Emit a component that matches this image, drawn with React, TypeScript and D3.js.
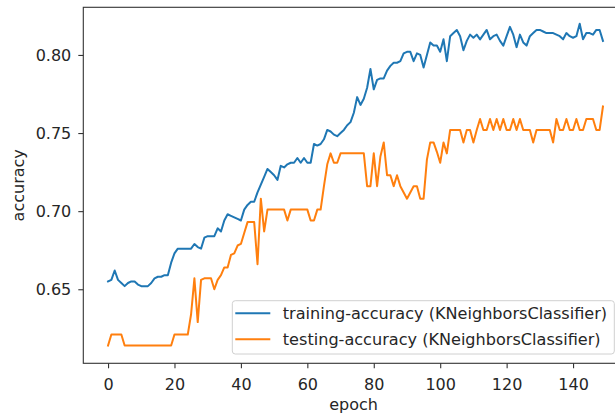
import React, { useEffect, useRef } from "react";
import * as d3 from "d3";

// accuracy per epoch
const trainAcc = [
  0.655, 0.656, 0.662, 0.656, 0.654, 0.652, 0.654, 0.655, 0.655, 0.653,
  0.652, 0.652, 0.652, 0.654, 0.657, 0.658, 0.658, 0.659, 0.659, 0.667,
  0.673, 0.676, 0.676, 0.676, 0.676, 0.676, 0.679, 0.677, 0.676, 0.683,
  0.684, 0.684, 0.684, 0.689, 0.687, 0.694, 0.698, 0.697, 0.696, 0.695,
  0.694, 0.701, 0.704, 0.706, 0.706, 0.712, 0.717, 0.722, 0.727, 0.725,
  0.723, 0.72, 0.729, 0.728, 0.73, 0.731, 0.731, 0.734, 0.731, 0.734,
  0.731, 0.731, 0.743, 0.742, 0.743, 0.746, 0.752, 0.751, 0.749, 0.748,
  0.75, 0.752, 0.755, 0.757, 0.763, 0.773, 0.768, 0.772, 0.779, 0.791,
  0.778, 0.784, 0.785, 0.785, 0.79, 0.793, 0.795, 0.795, 0.796, 0.801,
  0.802, 0.802, 0.796, 0.801, 0.8, 0.792, 0.8, 0.808, 0.806, 0.806,
  0.802, 0.81, 0.796, 0.812, 0.814, 0.816, 0.812, 0.803, 0.809, 0.813,
  0.811, 0.813, 0.81, 0.813, 0.816, 0.81, 0.812, 0.813, 0.809, 0.806,
  0.812, 0.818, 0.813, 0.805, 0.813, 0.808, 0.806, 0.812, 0.814, 0.816,
  0.816, 0.815, 0.814, 0.814, 0.814, 0.813, 0.812, 0.81, 0.814, 0.812,
  0.811, 0.812, 0.82, 0.81, 0.814, 0.814, 0.813, 0.816, 0.816, 0.809,
];

const testAcc = [
  0.614, 0.621, 0.621, 0.621, 0.621, 0.614, 0.614, 0.614, 0.614, 0.614,
  0.614, 0.614, 0.614, 0.614, 0.614, 0.614, 0.614, 0.614, 0.614, 0.614,
  0.621, 0.621, 0.621, 0.621, 0.621, 0.634, 0.657, 0.629, 0.656, 0.657,
  0.657, 0.657, 0.65, 0.656, 0.659, 0.664, 0.664, 0.672, 0.673, 0.678,
  0.679, 0.686, 0.693, 0.693, 0.693, 0.666, 0.708, 0.687, 0.701, 0.701,
  0.701, 0.701, 0.701, 0.701, 0.694, 0.701, 0.701, 0.701, 0.701, 0.701,
  0.701, 0.694, 0.694, 0.701, 0.701, 0.716, 0.73, 0.737, 0.731, 0.731,
  0.737, 0.737, 0.737, 0.737, 0.737, 0.737, 0.737, 0.737, 0.716, 0.716,
  0.737, 0.716, 0.735, 0.744, 0.723, 0.723, 0.716, 0.723, 0.716, 0.712,
  0.708, 0.712, 0.716, 0.716, 0.708, 0.708, 0.733, 0.744, 0.744, 0.738,
  0.731, 0.744, 0.737, 0.752, 0.752, 0.752, 0.752, 0.744, 0.752, 0.752,
  0.744, 0.752, 0.759, 0.752, 0.752, 0.759, 0.752, 0.759, 0.752, 0.759,
  0.752, 0.752, 0.759, 0.752, 0.759, 0.752, 0.752, 0.752, 0.744, 0.752,
  0.752, 0.752, 0.752, 0.752, 0.744, 0.759, 0.752, 0.752, 0.759, 0.752,
  0.752, 0.759, 0.752, 0.752, 0.759, 0.759, 0.759, 0.752, 0.752, 0.767,
];

const xTicks = [0, 20, 40, 60, 80, 100, 120, 140];
const yTicks = [0.65, 0.7, 0.75, 0.8];
const seriesNames = [
  "training-accuracy (KNeighborsClassifier)",
  "testing-accuracy (KNeighborsClassifier)",
];
const seriesColors = ["#1f77b4", "#ff7f0e"];

const App = () => {
  const svgRef = useRef<SVGSVGElement>(null);

  useEffect(() => {
    document.body.style.margin = "0";
    const font = "DejaVu Sans, sans-serif";
    const textColor = "#262626";
    const fs = "16px";

    const left = 83.3, right = 627.7, top = 7.3, bottom = 363.3;
    const n = trainAcc.length;
    const pad = (n - 1) * 0.05;
    const x = d3.scaleLinear().domain([-pad, n - 1 + pad]).range([left, right]);
    const y = d3.scaleLinear().domain([0.6026, 0.8305]).range([bottom, top]);

    const svg = d3.select(svgRef.current).attr("width", 615).attr("height", 415);
    svg.selectAll("*").remove();

    svg.append("rect").attr("width", 615).attr("height", 415).attr("fill", "#fff");

    // lines
    const line = d3
      .line<number>()
      .x((_, i) => x(i))
      .y((d) => y(d));

    [trainAcc, testAcc].forEach((s, k) => {
      svg
        .append("path")
        .datum(s)
        .attr("d", line)
        .attr("fill", "none")
        .attr("stroke", seriesColors[k])
        .attr("stroke-width", 2)
        .attr("stroke-linejoin", "round")
        .attr("stroke-linecap", "square");
    });

    // frame
    svg
      .append("rect")
      .attr("x", left)
      .attr("y", top)
      .attr("width", right - left)
      .attr("height", bottom - top)
      .attr("fill", "none")
      .attr("stroke", "#333")
      .attr("stroke-width", 1.1);

    // axes
    const xAxis = svg
      .append("g")
      .attr("transform", `translate(0,${bottom})`)
      .call(d3.axisBottom(x).tickValues(xTicks).tickSize(5).tickPadding(10).tickSizeOuter(0));
    const yAxis = svg
      .append("g")
      .attr("transform", `translate(${left},0)`)
      .call(
        d3.axisLeft(y).tickValues(yTicks).tickFormat(d3.format(".2f")).tickSize(5).tickPadding(7).tickSizeOuter(0)
      );
    [xAxis, yAxis].forEach((g) => {
      g.select(".domain").remove();
      g.selectAll("line").attr("stroke", "#333").attr("stroke-width", 1.1);
      g.selectAll("text")
        .attr("fill", textColor)
        .style("font-family", font)
        .style("font-size", fs);
    });

    svg
      .append("text")
      .attr("x", (left + right) / 2 - 2)
      .attr("y", 409.5)
      .attr("text-anchor", "middle")
      .attr("fill", textColor)
      .style("font-family", font)
      .style("font-size", fs)
      .text("epoch");

    svg
      .append("text")
      .attr("transform", `translate(24,${(top + bottom) / 2}) rotate(-90)`)
      .attr("text-anchor", "middle")
      .attr("fill", textColor)
      .style("font-family", font)
      .style("font-size", fs)
      .text("accuracy");

    // legend
    const lg = svg.append("g").attr("transform", "translate(232.3,300.7)");
    lg.append("rect")
      .attr("width", 382)
      .attr("height", 53.3)
      .attr("rx", 3)
      .attr("fill", "#fff")
      .attr("fill-opacity", 0.8)
      .attr("stroke", "#d0d0d0")
      .attr("stroke-width", 1);
    seriesNames.forEach((name, k) => {
      const cy = 12.6 + k * 26;
      lg.append("line")
        .attr("x1", 3)
        .attr("x2", 38)
        .attr("y1", cy)
        .attr("y2", cy)
        .attr("stroke", seriesColors[k])
        .attr("stroke-width", 2);
      lg.append("text")
        .attr("x", 50.5)
        .attr("y", cy + 5.5)
        .attr("fill", textColor)
        .style("font-family", font)
        .style("font-size", "16.1px")
        .text(name);
    });
  }, []);

  return <svg ref={svgRef}></svg>;
};

export default App;
